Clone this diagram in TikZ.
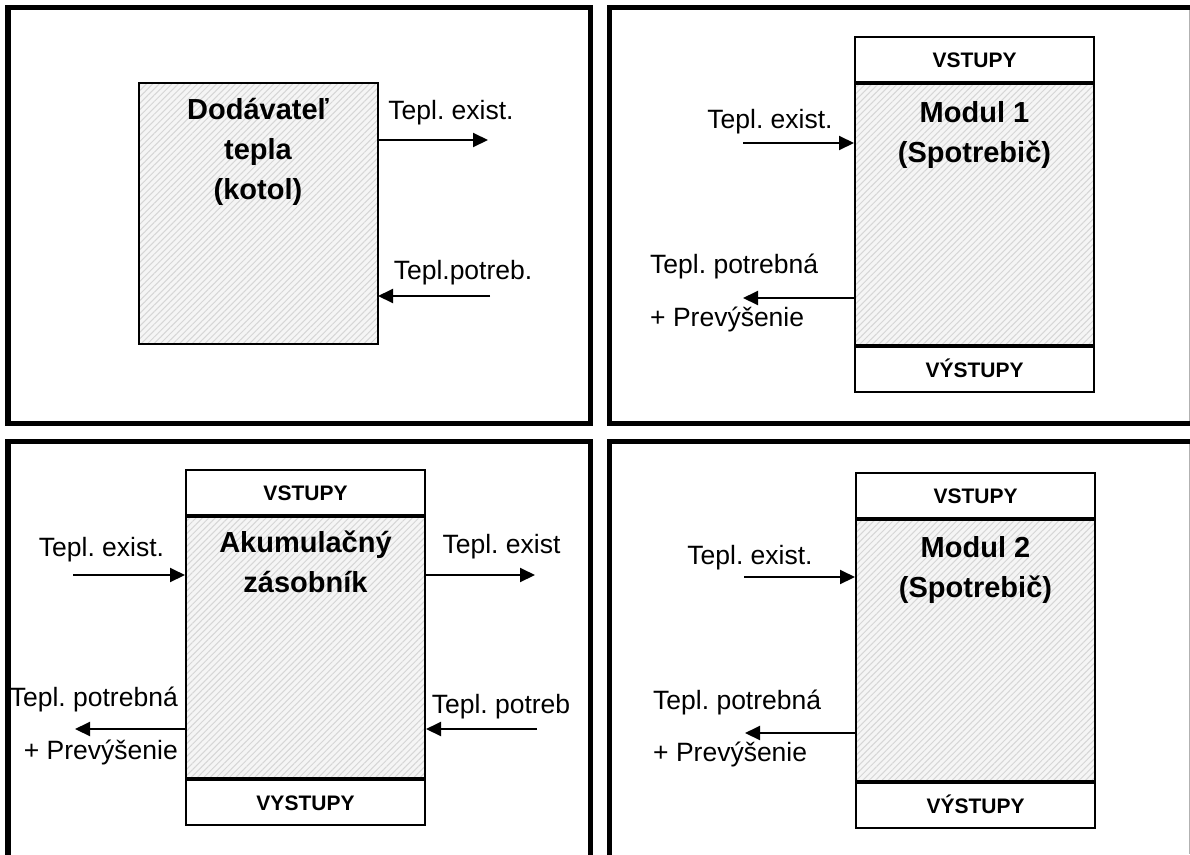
\documentclass[tikz,border=0pt]{standalone}
\usepackage{fontspec}
\setmainfont{Liberation Sans}
\usetikzlibrary{arrows.meta,patterns.meta}
\frenchspacing

\begin{document}
\begin{tikzpicture}[x=1pt,y=-1pt,
  frame/.style={line width=5.5pt},
  body/.style={draw,line width=2pt,anchor=north west,minimum width=239pt,minimum height=261pt,inner sep=0pt,
    preaction={fill=gray!8},pattern={Lines[angle=45,distance=4.5pt,line width=1pt]},pattern color=gray!32},
  port/.style={draw,line width=2pt,fill=white,minimum width=239pt,minimum height=45pt,inner sep=0pt,
    font=\bfseries\fontsize{21}{24}\selectfont,text height=15pt,text depth=0pt},
  title/.style={anchor=north,align=center,inner sep=0pt,font=\bfseries\fontsize{29}{40}\selectfont},
  lbl/.style={inner sep=0pt,font=\fontsize{26.5}{30}\selectfont,text height=19pt,text depth=5.5pt},
  flow/.style={line width=2pt,-{Triangle[length=15pt,width=14pt]}}]
\useasboundingbox (0,0) rectangle (1190,854);
\draw[frame] (8,7.5) rectangle (590.5,423.5);
\draw[frame] (1195,7.5) -- (609.5,7.5) -- (609.5,423.5) -- (1195,423.5);
\draw[gray!60,line width=1pt] (1189,10) -- (1189,421);
\draw[frame] (8,860) -- (8,441.5) -- (590.5,441.5) -- (590.5,860);
\draw[frame] (609.5,860) -- (609.5,441.5) -- (1195,441.5);
\draw[gray!60,line width=1pt] (1189,444) -- (1189,854);

\node[body] (kotol) at (138,82) {};
\node[title] (kotolT) at ([yshift=-16pt]kotol.north) {Dodávateľ\\tepla\\(kotol)};
\coordinate (k1) at (488,140);
\coordinate (k2) at (490,296);
\draw[flow] (kotol.east |- k1) -- (k1);
\draw[flow] (k2) -- (kotol.east |- k2);
\node[lbl] (k1t) at (451,113) {Tepl. exist.};
\node[lbl] (k2t) at (463,273) {Tepl.potreb.};

\node[body] (mod1) at (854,83) {};
\node[port,anchor=south] (mod1in) at (mod1.north) {VSTUPY};
\node[port,anchor=north] (mod1out) at (mod1.south) {VÝSTUPY};
\node[title] (mod1T) at ([yshift=-18pt]mod1.north) {Modul 1\\(Spotrebič)};
\coordinate (a1) at (743,143);
\coordinate (a2) at (743,298);
\draw[flow] (a1) -- (mod1.west |- a1);
\draw[flow] (mod1.west |- a2) -- (a2);
\node[lbl] (a1t) at (770,122) {Tepl. exist.};
\node[lbl,anchor=west] (a2t) at (650,267) {Tepl. potrebná};
\node[lbl,anchor=west] (a3t) at (650,320) {+ Prevýšenie};

\node[body] (akum) at (185,516) {};
\node[port,anchor=south] (akumin) at (akum.north) {VSTUPY};
\node[port,anchor=north] (akumout) at (akum.south) {VYSTUPY};
\node[title] (akumT) at ([yshift=-15pt]akum.north) {Akumulačný\\zásobník};
\coordinate (z1) at (73,575);
\coordinate (z2) at (535,575);
\coordinate (z3) at (75,729);
\coordinate (z4) at (537,729);
\draw[flow] (z1) -- (akum.west |- z1);
\draw[flow] (akum.east |- z2) -- (z2);
\draw[flow] (akum.west |- z3) -- (z3);
\draw[flow] (z4) -- (akum.east |- z4);
\node[lbl] (z1t) at (101.5,550) {Tepl. exist.};
\node[lbl] (z2t) at (501.5,547) {Tepl. exist};
\node[lbl,anchor=east] (z3t) at (178,700) {Tepl. potrebná};
\node[lbl,anchor=east] (z5t) at (178,753) {+ Prevýšenie};
\node[lbl] (z4t) at (501,707) {Tepl. potreb};

\node[body] (mod2) at (855,519) {};
\node[port,anchor=south] (mod2in) at (mod2.north) {VSTUPY};
\node[port,anchor=north] (mod2out) at (mod2.south) {VÝSTUPY};
\node[title] (mod2T) at ([yshift=-17pt]mod2.north) {Modul 2\\(Spotrebič)};
\coordinate (b1) at (744,577);
\coordinate (b2) at (745,733);
\draw[flow] (b1) -- (mod2.west |- b1);
\draw[flow] (mod2.west |- b2) -- (b2);
\node[lbl] (b1t) at (750,558) {Tepl. exist.};
\node[lbl,anchor=west] (b2t) at (653,703) {Tepl. potrebná};
\node[lbl,anchor=west] (b3t) at (653,755) {+ Prevýšenie};
\end{tikzpicture}
\end{document}
